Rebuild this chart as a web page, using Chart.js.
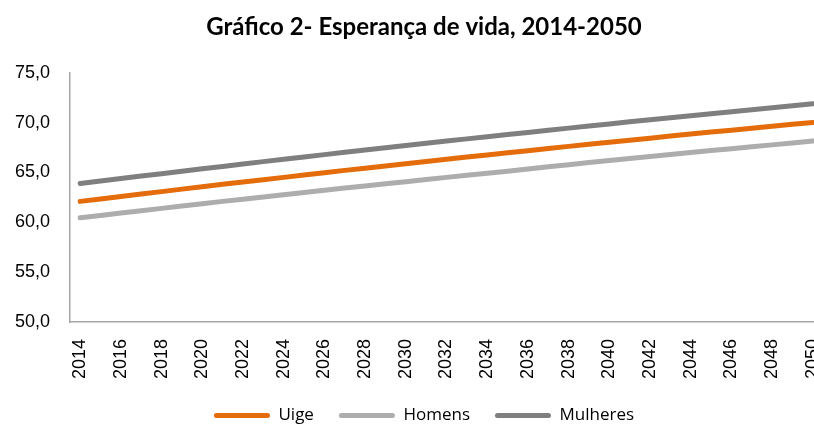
<!DOCTYPE html>
<html>
<head>
<meta charset="utf-8">
<script src="https://cdn.jsdelivr.net/npm/chart.js@4/dist/chart.umd.min.js"></script>
<style>
  html, body { margin: 0; padding: 0; overflow: hidden; background: #fff; }
  #wrap { position: relative; width: 835px; height: 424px; }
</style>
</head>
<body>
<div id="wrap"><canvas id="canvas"></canvas></div>
<script>
// MARK: Data
const years = [
  2014, 2015, 2016, 2017, 2018, 2019, 2020, 2021, 2022, 2023,
  2024, 2025, 2026, 2027, 2028, 2029, 2030, 2031, 2032, 2033,
  2034, 2035, 2036, 2037, 2038, 2039, 2040, 2041, 2042, 2043,
  2044, 2045, 2046, 2047, 2048, 2049, 2050
];

const uige = [
  62.10, 62.35, 62.59, 62.84, 63.08, 63.33, 63.57, 63.81, 64.04, 64.28,
  64.51, 64.75, 64.98, 65.21, 65.43, 65.66, 65.88, 66.11, 66.33, 66.55,
  66.76, 66.98, 67.19, 67.41, 67.62, 67.83, 68.03, 68.24, 68.44, 68.65,
  68.85, 69.05, 69.24, 69.44, 69.63, 69.83, 70.02
];

const homens = [
  60.45, 60.69, 60.93, 61.17, 61.40, 61.64, 61.87, 62.10, 62.32, 62.55,
  62.77, 63.00, 63.22, 63.44, 63.65, 63.87, 64.08, 64.30, 64.51, 64.72,
  64.92, 65.13, 65.36, 65.57, 65.78, 65.99, 66.20, 66.40, 66.60, 66.80,
  67.00, 67.20, 67.39, 67.58, 67.77, 67.96, 68.15
];

const mulheres = [
  63.90, 64.15, 64.39, 64.64, 64.88, 65.13, 65.37, 65.61, 65.85, 66.09,
  66.32, 66.56, 66.79, 67.02, 67.25, 67.48, 67.70, 67.93, 68.15, 68.37,
  68.58, 68.80, 69.02, 69.24, 69.45, 69.66, 69.87, 70.08, 70.28, 70.49,
  70.70, 70.90, 71.10, 71.30, 71.50, 71.70, 71.90
];

const yMin = 50;
const yMax = 75;
const yStep = 5;

// MARK: Chart
const axisColor = '#a6a6a6';
const tickFont = { family: 'Liberation Sans', size: 18 };

function lineSet(label, data, color) {
  return {
    label,
    data,
    borderColor: color,
    backgroundColor: color,
    borderWidth: 5,
    borderCapStyle: 'round',
    borderJoinStyle: 'round',
    pointRadius: 0,
    pointHoverRadius: 0,
    tension: 0,
    fill: false
  };
}

const ctx = document.getElementById('canvas').getContext('2d');

const chart = new Chart(ctx, {
  type: 'line',
  data: {
    labels: years,
    datasets: [
      lineSet('Uige', uige, '#e46c0a'),
      lineSet('Homens', homens, '#adadad'),
      lineSet('Mulheres', mulheres, '#7f7f7f')
    ]
  },
  options: {
    responsive: true,
    maintainAspectRatio: false,
    animation: false,
    layout: {
      padding: { left: 13, right: 0, top: 0, bottom: -10 }
    },
    plugins: {
      title: {
        display: true,
        text: 'Gráfico 2- Esperança de vida, 2014-2050',
        color: '#000',
        font: { family: 'Lato', size: 24, weight: 'bold' },
        padding: { top: 13, bottom: 31 }
      },
      legend: {
        display: true,
        position: 'bottom',
        labels: {
          color: '#000',
          font: { family: 'Open Sans', size: 17 },
          boxWidth: 56,
          boxHeight: 5,
          padding: 25,
          generateLabels(c) {
            const items = Chart.defaults.plugins.legend.labels.generateLabels(c);
            items.forEach(it => {
              it.lineWidth = 0;
              it.borderRadius = 2.5;
            });
            return items;
          }
        }
      },
      tooltip: { enabled: false }
    },
    scales: {
      x: {
        type: 'category',
        offset: true,
        grid: { display: false, drawTicks: false },
        border: { display: true, color: axisColor, width: 1.5 },
        ticks: {
          color: '#000',
          font: tickFont,
          autoSkip: false,
          minRotation: 90,
          maxRotation: 90,
          padding: 17,
          callback(value, index) {
            return index % 2 === 0 ? String(years[index]) : '';
          }
        },
        afterFit(scale) {
          scale.height = 60;
          scale.paddingLeft = 0;
          scale.paddingRight = 12;
        }
      },
      y: {
        min: yMin,
        max: yMax,
        grid: { display: false, drawTicks: false },
        border: { display: true, color: axisColor, width: 1.5 },
        ticks: {
          color: '#000',
          font: tickFont,
          stepSize: yStep,
          padding: 20,
          callback(value) {
            return value.toFixed(1).replace('.', ',');
          }
        },
        afterFit(scale) {
          scale.width = 57;
        }
      }
    }
  }
});
</script>
</body>
</html>
